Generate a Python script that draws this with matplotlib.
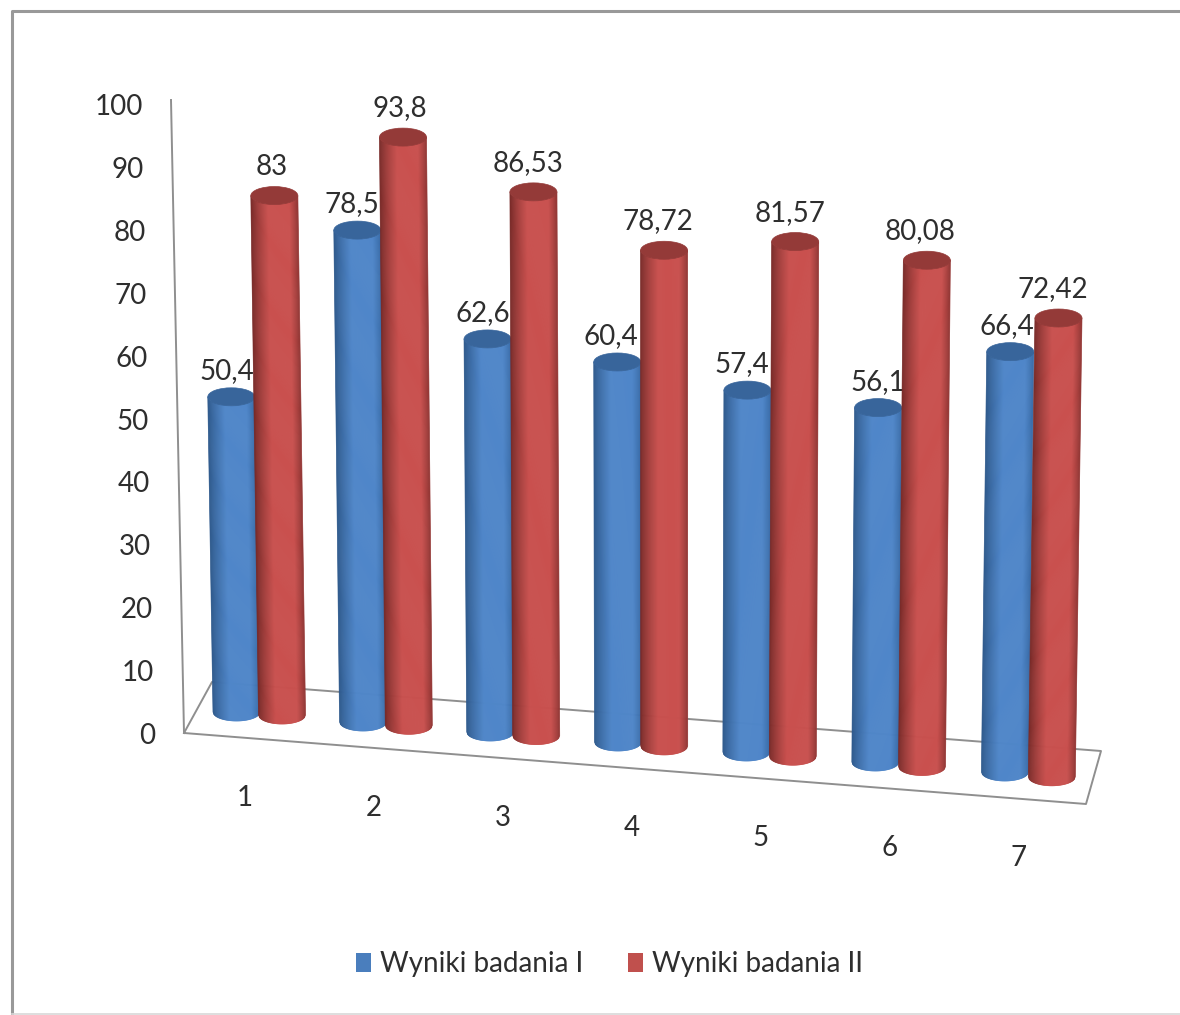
#!/usr/bin/env python3
import numpy as np
import matplotlib
matplotlib.use("Agg")
import matplotlib.pyplot as plt
from matplotlib.collections import PolyCollection
from matplotlib.patches import Ellipse, Rectangle

categories = ["1", "2", "3", "4", "5", "6", "7"]
series_names = ["Wyniki badania I", "Wyniki badania II"]
values_1 = [50.4, 78.5, 62.6, 60.4, 57.4, 56.1, 66.4]
values_2 = [83, 93.8, 86.53, 78.72, 81.57, 80.08, 72.42]
labels_1 = ["50,4", "78,5", "62,6", "60,4", "57,4", "56,1", "66,4"]
labels_2 = ["83", "93,8", "86,53", "78,72", "81,57", "80,08", "72,42"]
value_ticks = [0, 10, 20, 30, 40, 50, 60, 70, 80, 90, 100]

BLUE = ("#2c5688", "#4f86c9", "#386aa6", "#38659b", "#4a7ebd")
RED = ("#732826", "#c9504e", "#8f3533", "#943a38", "#c0504d")
RADIUS = 23.5
ELLIPSE = 9.0
TEXT = "#2e2e2e"
GRID = "#8f8f8f"
# the data labels do not sit quite centred over the cylinders
SHIFT_1 = [4, 5, 5, 6, 6, 0, 3]
SHIFT_2 = [3, 3, 5, 6, 5, 7, 6]

plt.rcParams["font.family"] = ["Lato", "DejaVu Sans"]


def base_point(i, series):
    # perspective floor position of a cylinder, in picture pixels
    if series == 0:
        return 236.5 + i * 126.27 + i * i * 0.3, 712 + i * 10.0
    return 282 + i * 126.5 + i * i * 0.3, 715 + i * 10.3


def top_point(i, series, value):
    bx, by = base_point(i, series)
    height = value * (6.27 + 1e-4 * (bx - 400))
    return bx + (bx - 670) * 3.8e-5 * height, by - height


def shade(u, dark_left, mid, dark_right):
    # u runs -1..1 across the cylinder
    left = np.array(matplotlib.colors.to_rgb(dark_left))
    centre = np.array(matplotlib.colors.to_rgb(mid))
    right = np.array(matplotlib.colors.to_rgb(dark_right))
    if u < 0:
        t = min(1.0, (u + 1) / 0.75)
        return left + (centre - left) * t ** 0.8
    t = max(0.0, (1 - u) / 0.35)
    return right + (centre - right) * min(1.0, t) ** 0.8


def draw_cylinder(ax, i, series, value, palette, zorder):
    bx, by = base_point(i, series)
    tx, ty = top_point(i, series, value)
    edges = np.linspace(-1, 1, 49)
    polys, colors = [], []
    for a, b in zip(edges[:-1], edges[1:]):
        ya = ELLIPSE * np.sqrt(1 - a ** 2)
        yb = ELLIPSE * np.sqrt(1 - b ** 2)
        polys.append([
            (bx + RADIUS * a, by + ya),
            (bx + RADIUS * b, by + yb),
            (tx + RADIUS * b, ty + yb),
            (tx + RADIUS * a, ty + ya),
        ])
        colors.append(shade((a + b) / 2, palette[0], palette[1], palette[2]))
    ax.add_collection(PolyCollection(polys, facecolors=colors, edgecolors=colors,
                                     linewidths=0.5, zorder=zorder))
    ax.add_patch(Ellipse((tx, ty), 2 * RADIUS, 2 * ELLIPSE, facecolor=palette[3],
                         edgecolor=palette[3], linewidth=0.5, zorder=zorder))


def main() -> int:
    fig = plt.figure(figsize=(11.8, 10.15), dpi=100)
    ax = fig.add_axes([0, 0, 1, 1])
    ax.set_xlim(0, 1180)
    ax.set_ylim(1015, 0)
    ax.axis("off")

    # outer chart frame
    ax.plot([12, 12, 1180], [1015, 11, 11], color="#999999", lw=2.2, zorder=1)
    ax.plot([12, 1180], [1014, 1014], color="#d8d8d8", lw=1.2, zorder=1)

    # wall edge and floor
    ax.plot([171, 184], [100, 733], color=GRID, lw=1.4, zorder=1)
    floor_x = [184, 212, 1101, 1086, 184]
    floor_y = [733, 682, 751, 804, 733]
    ax.plot(floor_x, floor_y, color=GRID, lw=1.4, zorder=1)

    for tick in value_ticks:
        ax.text(155 - tick * 0.12, 736 - tick * 6.29, str(tick), ha="right", va="center",
                fontsize=20, color=TEXT, zorder=5)

    for i, name in enumerate(categories):
        ax.text(245 + i * 129, 798 + i * 10, name, ha="center", va="center",
                fontsize=20, color=TEXT, zorder=5)

    for i in range(len(categories)):
        draw_cylinder(ax, i, 0, values_1[i], BLUE, 10 + 4 * i)
        tx, ty = top_point(i, 0, values_1[i])
        ax.text(tx - SHIFT_1[i], ty - 26, labels_1[i], ha="center", va="center", fontsize=20,
                color=TEXT, zorder=11 + 4 * i)
        draw_cylinder(ax, i, 1, values_2[i], RED, 12 + 4 * i)
        tx, ty = top_point(i, 1, values_2[i])
        ax.text(tx - SHIFT_2[i], ty - 29, labels_2[i], ha="center", va="center", fontsize=20,
                color=TEXT, zorder=13 + 4 * i)

    # legend
    for x, name, text_x, palette in zip([356, 628], series_names, [380, 652], [BLUE, RED]):
        ax.add_patch(Rectangle((x, 953), 15, 19, facecolor=palette[4], edgecolor="none", zorder=5))
        ax.text(text_x, 964, name, ha="left", va="center", fontsize=20, color=TEXT, zorder=5)

    fig.savefig("out.png", dpi=100)
    plt.close(fig)
    return 0


if __name__ == "__main__":
    raise SystemExit(main())
